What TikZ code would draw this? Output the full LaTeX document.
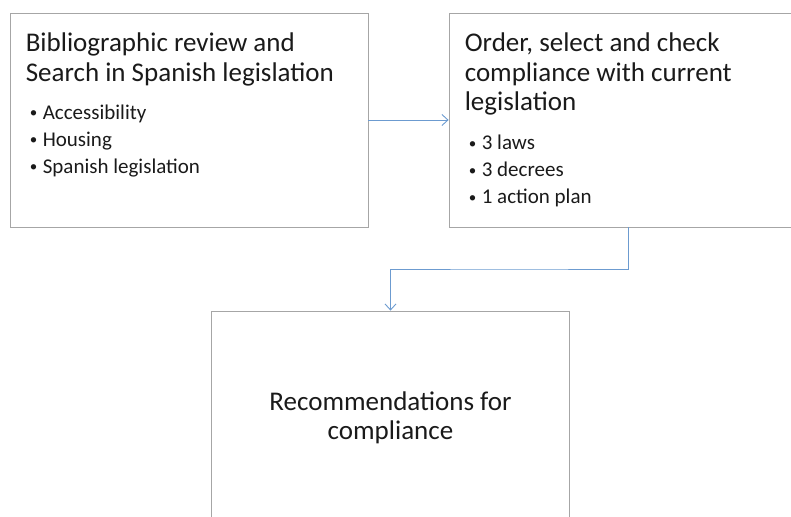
\documentclass[tikz,border=0pt]{standalone}
\usepackage{fontspec}
\setmainfont{Carlito}
\usetikzlibrary{positioning,calc,arrows.meta}
\definecolor{boxgray}{HTML}{A6A6A6}
\definecolor{linkblue}{HTML}{6C9BD0}
\definecolor{textdark}{HTML}{1A1A1A}
\newcommand{\bitem}[1]{\makebox[13pt][l]{\raisebox{1.5pt}{\fontsize{15}{15}\selectfont\textbullet}}#1}
\begin{document}
\begin{tikzpicture}[x=1pt,y=-1pt,
  stepbox/.style={draw=boxgray,line width=0.8pt,minimum width=358pt,minimum height=214pt,inner sep=0pt},
  link/.style={draw=linkblue,line width=0.9pt,-{Straight Barb[length=6pt,width=11pt]}},
  headtext/.style={inner sep=0pt,align=left,text=textdark,font=\fontsize{27}{29.5}\selectfont},
  listtext/.style={inner sep=0pt,align=left,text=textdark,font=\fontsize{21}{27}\selectfont}]
\useasboundingbox (0,0) rectangle (791,516);
\clip (0,0) rectangle (791,516);
\node[stepbox] (review) at (189,120) {};
\node[stepbox] (order) at (628,120) {};
\node[stepbox] (recomm) at (390.5,418) {};
\node[headtext,anchor=north west] (reviewtitle) at ([shift={(16,20)}]review.north west)
  {Bibliographic review and\\Search in Spanish legislation};
\node[listtext,below=18.5pt of reviewtitle.south west,anchor=north west,xshift=4pt] (reviewlist)
  {\bitem{Accessibility}\\\bitem{Housing}\\\bitem{Spanish legislation}};
\node[headtext,anchor=north west] (ordertitle) at ([shift={(16,20)}]order.north west)
  {Order, select and check\\compliance with current\\legislation};
\node[listtext,below=19.5pt of ordertitle.south west,anchor=north west,xshift=4pt] (orderlist)
  {\bitem{3 laws}\\\bitem{3 decrees}\\\bitem{1 action plan}};
\node[headtext,align=center] (recommtext) at (recomm) {Recommendations for\\compliance};
\coordinate (elbow) at ($(order.south)!0.5!(recomm.north)$);
\draw[link] (review.east) -- (order.west);
\draw[link] (order.south) |- (elbow) -| (recomm.north);
\end{tikzpicture}
\end{document}
